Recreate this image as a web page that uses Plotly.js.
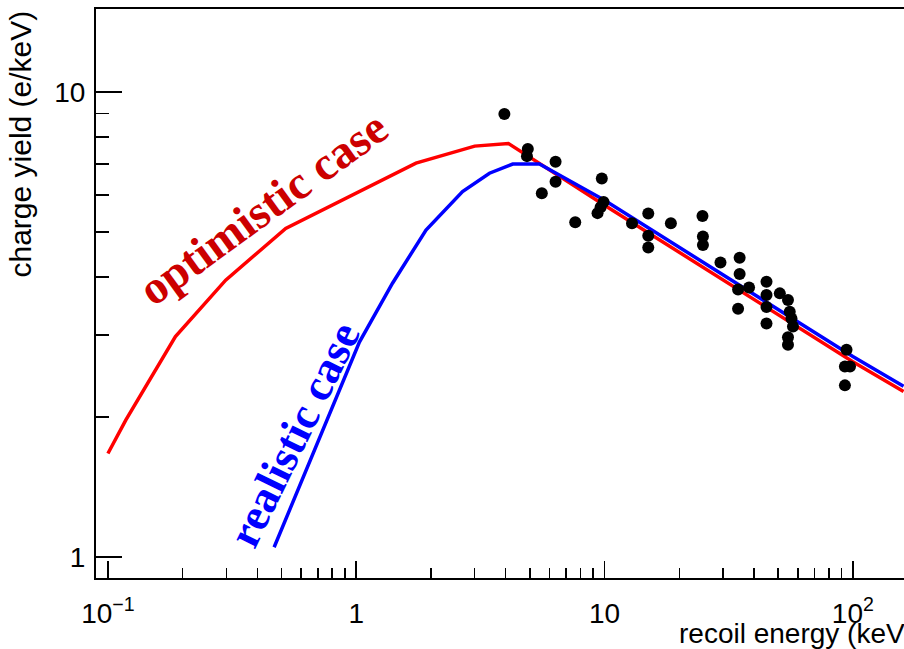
<!DOCTYPE html>
<html>
<head>
<meta charset="utf-8">
<script src="https://cdn.plot.ly/plotly-3.0.1.min.js"></script>
<style>html,body{margin:0;padding:0;background:#fff;overflow:hidden}#chart{width:904px;height:649px}</style>
</head>
<body>
<div id="chart"></div>
<script>
// Optimistic model curve (red)
const optimisticEnergy = [0.1, 0.118, 0.187, 0.298, 0.52, 1.03, 1.74, 3.0, 4.1, 10, 100, 160];
const optimisticYield  = [1.67, 1.97, 2.98, 3.94, 5.09, 6.12, 7.03, 7.65, 7.75, 5.71, 2.63, 2.27];

// Realistic model curve (blue)
const realisticEnergy = [0.467, 1.03, 1.40, 1.91, 2.68, 3.44, 4.27, 5.47, 10, 100, 160];
const realisticYield  = [1.05, 2.90, 3.88, 5.05, 6.11, 6.69, 7.0, 7.0, 5.85, 2.70, 2.33];

// Measured data points (black)
const dataEnergy = [3.95, 4.91, 4.87, 6.35, 6.35, 5.59, 7.62, 9.75, 9.91, 9.64, 9.37,
  12.9, 15.0, 15.0, 15.0, 18.5, 24.8, 24.9, 24.9, 29.3, 35.0, 35.0, 34.5, 38.2, 34.5,
  44.9, 44.9, 44.9, 44.9, 50.8, 54.8, 55.7, 56.6, 57.4, 54.8, 54.8, 94.3, 92.9, 97.4, 92.9];
const dataYield = [8.97, 7.54, 7.28, 7.08, 6.41, 6.06, 5.25, 6.52, 5.80, 5.65, 5.49,
  5.22, 5.48, 4.91, 4.63, 5.22, 5.41, 4.89, 4.69, 4.30, 4.40, 4.06, 3.76, 3.80, 3.42,
  3.91, 3.66, 3.45, 3.18, 3.69, 3.57, 3.37, 3.26, 3.13, 2.97, 2.86, 2.79, 2.57, 2.57, 2.34];

// Axis ticks
const xTickVals = [0.1, 1, 10, 100];
const xTickText = ['10<sup>\u22121</sup>', '1', '10', '10<sup>2</sup>'];
const xMinorVals = [0.2,0.3,0.4,0.5,0.6,0.7,0.8,0.9, 2,3,4,5,6,7,8,9, 20,30,40,50,60,70,80,90];
const yTickVals = [1, 10];
const yTickText = ['1', '10'];
const yMinorVals = [2,3,4,5,6,7,8,9];

const xTitle = 'recoil energy (keV)';
const yTitle = 'charge yield (e/keV)';
const labelOptimistic = 'optimistic case';
const labelRealistic = 'realistic case';

const sans = 'Liberation Sans, Arial, sans-serif';
const serif = 'Liberation Serif, Times New Roman, serif';

const traces = [
  {x: optimisticEnergy, y: optimisticYield, mode: 'lines', line: {color: '#ff0000', width: 3.5}, hoverinfo: 'skip'},
  {x: realisticEnergy, y: realisticYield, mode: 'lines', line: {color: '#0000ff', width: 3.5}, hoverinfo: 'skip'},
  {x: dataEnergy, y: dataYield, mode: 'markers', marker: {color: '#000', size: 12, line: {width: 0}}, hoverinfo: 'skip'}
];

const layout = {
  width: 904, height: 649,
  margin: {l: 96, r: 0, t: 9, b: 71, pad: 0},
  paper_bgcolor: '#fff', plot_bgcolor: '#fff',
  showlegend: false,
  xaxis: {
    type: 'log', range: [-1.048, 2.206],
    tickmode: 'array', tickvals: xTickVals, ticktext: xTickText,
    ticks: 'inside', ticklen: 17, tickwidth: 1.5, tickcolor: '#000',
    showline: true, linecolor: '#000', linewidth: 2, mirror: true,
    showgrid: false, zeroline: false, ticklabelstandoff: 9,
    tickfont: {family: sans, size: 28, color: '#000'},
    minor: {tickmode: 'array', tickvals: xMinorVals, ticks: 'inside', ticklen: 10, tickwidth: 1.5, tickcolor: '#000', showgrid: false}
  },
  yaxis: {
    type: 'log', range: [-0.045, 1.1785],
    tickmode: 'array', tickvals: yTickVals, ticktext: yTickText,
    ticks: 'inside', ticklen: 26, tickwidth: 1.5, tickcolor: '#000',
    showline: true, linecolor: '#000', linewidth: 2, mirror: false,
    showgrid: false, zeroline: false, ticklabelstandoff: 3,
    tickfont: {family: sans, size: 28, color: '#000'},
    minor: {tickmode: 'array', tickvals: yMinorVals, ticks: 'inside', ticklen: 13, tickwidth: 1.5, tickcolor: '#000', showgrid: false}
  },
  annotations: [
    {text: yTitle, xref: 'paper', yref: 'paper', x: (20 - 96) / 808, y: (578 - 9) / 569,
     xanchor: 'center', yanchor: 'top', textangle: -90, showarrow: false,
     font: {family: sans, size: 30, color: '#000'}},
    {text: xTitle, xref: 'paper', yref: 'paper', x: (677 - 96) / 808, y: (578 - 651) / 569,
     xanchor: 'left', yanchor: 'bottom', showarrow: false,
     font: {family: sans, size: 28, color: '#000'}},
    {text: '<b>' + labelOptimistic + '</b>', xref: 'paper', yref: 'paper',
     x: (263 - 96) / 808, y: (578 - 208) / 569, xanchor: 'center', yanchor: 'middle',
     textangle: -36, showarrow: false, font: {family: serif, size: 47, color: '#cc0000'}},
    {text: '<b>' + labelRealistic + '</b>', xref: 'paper', yref: 'paper',
     x: (294 - 96) / 808, y: (578 - 435) / 569, xanchor: 'center', yanchor: 'middle',
     textangle: -64, showarrow: false, font: {family: serif, size: 45, color: '#0000ff'}}
  ]
};

Plotly.newPlot('chart', traces, layout, {displayModeBar: false, staticPlot: true});
</script>
</body>
</html>
